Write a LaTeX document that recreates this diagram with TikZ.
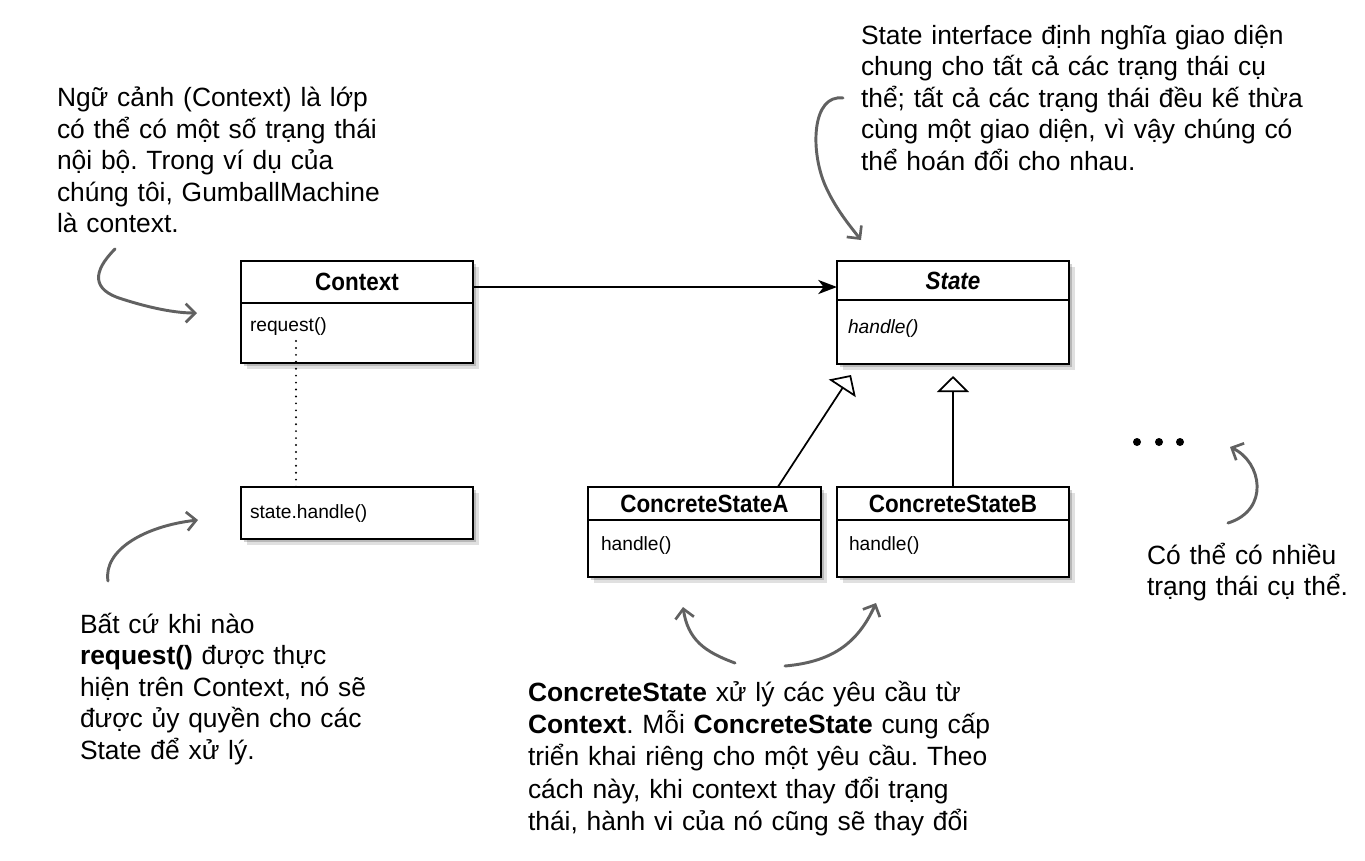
\documentclass[tikz,border=0pt]{standalone}
\usepackage{fontspec}
\setmainfont{Liberation Sans}
\newfontfamily\narrowsans[FakeStretch=0.9]{Liberation Sans}
\usetikzlibrary{arrows.meta,shadows}
\frenchspacing
\begin{document}
\begin{tikzpicture}[x=0.75pt,y=-0.75pt,
  every node/.style={inner sep=0pt, outer sep=0pt},
  note/.style={anchor=base west, align=left, text width=440pt,
    font=\fontsize{19.8}{23.7}\selectfont},
  cls/.style={draw=black, line width=1pt, fill=white, anchor=north west,
    drop shadow={shadow xshift=2pt, shadow yshift=-2pt, fill=black, opacity=0.18},
    drop shadow={shadow xshift=4.5pt, shadow yshift=-4.5pt, fill=black, opacity=0.12}},
  clstitle/.style={font=\narrowsans\fontsize{18.7}{21}\selectfont\bfseries},
  member/.style={anchor=west, font=\fontsize{14.4}{17}\selectfont},
  assoc/.style={line width=2pt, -{Stealth[length=14pt, width=10.5pt, inset=4pt]}},
  inherit/.style={line width=1.3pt, -{Triangle[open, length=12pt, width=24pt, fill=white]}},
  hand/.style={draw=black!62, line width=2.2pt, line cap=round,
    -{Straight Barb[length=7pt, width=14pt, line width=2pt]}},
  dotline/.style={line width=1.6pt, line cap=round, dash pattern=on 0pt off 5.2pt}
]
\useasboundingbox (0,0) rectangle (1365,861);

% ---------- class boxes ----------
\node[cls, clstitle, minimum width=174pt, minimum height=31.5pt] (ctxh) at (241,261) {Context};
\node[cls, minimum width=174pt, minimum height=45pt] (ctxb) at (241,303) {};
\node[member] (req) at (250,327) {request()};

\node[cls, minimum width=174pt, minimum height=39pt] (sh) at (241,487) {};
\node[member] (sht) at (250,514) {state.handle()};

\node[cls, clstitle, minimum width=174pt, minimum height=29.25pt] (sth) at (837,261) {\itshape State};
\node[cls, minimum width=174pt, minimum height=48pt] (stb) at (837,300) {};
\node[member, font=\fontsize{14.4}{17}\selectfont\itshape] (sthd) at (848,329) {handle()};

\node[cls, clstitle, minimum width=174.75pt, minimum height=24.75pt] (csah) at (588,487) {ConcreteStateA};
\node[cls, minimum width=174.75pt, minimum height=42.75pt] (csab) at (588,520) {};
\node[member] (csat) at (601,546) {handle()};

\node[cls, clstitle, minimum width=174pt, minimum height=24.75pt] (csbh) at (837,487) {ConcreteStateB};
\node[cls, minimum width=174pt, minimum height=42.75pt] (csbb) at (837,520) {};
\node[member] (csbt) at (849,546) {handle()};

% ---------- connectors ----------
\draw[assoc] ([yshift=-3.75pt]ctxh.east) -- ([yshift=-3.75pt]ctxh.east -| sth.west);

\coordinate (tipA) at (851,375);
\coordinate (tipB) at (953,376);
\draw[inherit] ([xshift=55pt]csah.north) -- (tipA);
\draw[inherit] (csbh.north) -- (tipB);

\coordinate (dtop) at (296,341);
\draw[dotline] (dtop) -- (dtop |- sh.north);

% ---------- dots ----------
\fill (1137,442) circle (3pt);
\fill (1159,442) circle (3pt);
\fill (1180,442) circle (3pt);

% ---------- notes ----------
\node[note] (n1) at (57,106.5) {Ngữ cảnh (Context) là lớp\\có thể có một số trạng thái\\nội bộ. Trong ví dụ của\\chúng tôi, GumballMachine\\là context.};
\node[note] (n2) at (861,44) {State interface định nghĩa giao diện\\chung cho tất cả các trạng thái cụ\\thể; tất cả các trạng thái đều kế thừa\\cùng một giao diện, vì vậy chúng có\\thể hoán đổi cho nhau.};
\node[note] (n3) at (80,633) {Bất cứ khi nào\\\textbf{request()} được thực\\hiện trên Context, nó sẽ\\được ủy quyền cho các\\State để xử lý.};
\node[note, font=\fontsize{19.8}{24.3}\selectfont] (n4) at (528,701) {\textbf{ConcreteState} xử lý các yêu cầu từ\\\textbf{Context}. Mỗi \textbf{ConcreteState} cung cấp\\triển khai riêng cho một yêu cầu. Theo\\cách này, khi context thay đổi trạng\\thái, hành vi của nó cũng sẽ thay đổi};
\node[note] (n5) at (1147,564) {Có thể có nhiều\\trạng thái cụ thể.};

% ---------- hand-drawn arrows ----------
\coordinate (h1s) at (115,249);
\coordinate (h1e) at (197,313);
\draw[hand] (h1s) .. controls (92,272) and (92,290) .. (122,299) .. controls (150,308) and (175,313) .. (h1e);

\coordinate (h2s) at (843,98);
\coordinate (h2e) at (861,240);
\draw[hand] (h2s) .. controls (812,94) and (810,150) .. (825,185) .. controls (835,208) and (850,226) .. (h2e);

\coordinate (h3s) at (108,581);
\coordinate (h3e) at (198,520);
\draw[hand] (h3s) .. controls (103,550) and (145,526) .. (h3e);

\coordinate (h4s) at (735,663);
\coordinate (h4e) at (683,607);
\draw[hand] (h4s) .. controls (705,652) and (688,640) .. (h4e);

\coordinate (h5s) at (785,666);
\coordinate (h5e) at (876,603);
\draw[hand] (h5s) .. controls (830,662) and (857,645) .. (h5e);

\coordinate (h6s) at (1228,523);
\coordinate (h6e) at (1230,447);
\draw[hand] (h6s) .. controls (1270,510) and (1262,462) .. (h6e);
\end{tikzpicture}
\end{document}
